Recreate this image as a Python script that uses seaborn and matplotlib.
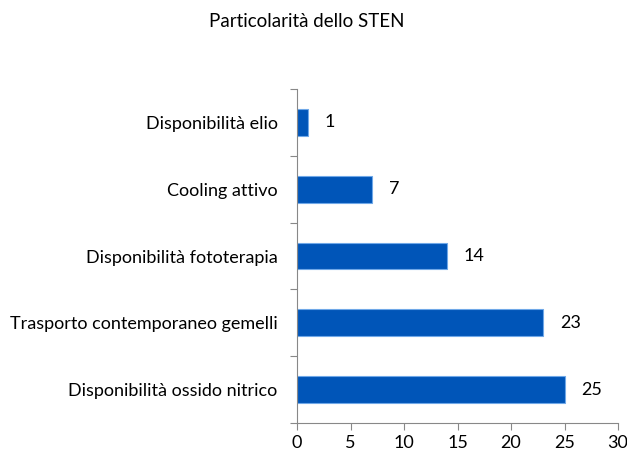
import matplotlib
matplotlib.use("Agg")
import matplotlib.pyplot as plt
import seaborn as sns
import pandas as pd

# Dati
categorie = [
    "Disponibilità elio",
    "Cooling attivo",
    "Disponibilità fototerapia",
    "Trasporto contemporaneo gemelli",
    "Disponibilità ossido nitrico",
]
valori = [1, 7, 14, 23, 25]
x_ticks = [0, 5, 10, 15, 20, 25, 30]
titolo = "Particolarità dello STEN"

df = pd.DataFrame({"categoria": categorie, "valore": valori})

sns.set_style("white")
plt.rcParams["font.family"] = ["Lato", "DejaVu Sans"]

fig = plt.figure(figsize=(6.27, 4.55), dpi=100)
ax = fig.add_axes([0.4737, 0.0703, 0.512, 0.734])

sns.barplot(data=df, x="valore", y="categoria", orient="h", order=categorie,
            color="#0055B8", saturation=1, width=0.4, ax=ax,
            edgecolor="#6FA8E8", linewidth=0.8)

for i, v in enumerate(valori):
    ax.annotate(str(v), xy=(v, i), xytext=(12, 0), textcoords="offset points",
                va="center", ha="left", fontsize=13, color="black")

ax.set_xlim(0, 30)
ax.set_ylim(len(categorie) - 0.5, -0.5)
ax.set_xticks(x_ticks)
ax.set_xlabel("")
ax.set_ylabel("")

# tacche dell'asse y tra le categorie
ax.set_yticks([i - 0.5 for i in range(len(categorie) + 1)], minor=True)
ax.tick_params(axis="y", which="major", length=0, labelsize=13, pad=14,
               labelcolor="black")
ax.tick_params(axis="y", which="minor", length=5, width=0.8, color="#888888",
               direction="out", left=True)
ax.tick_params(axis="x", which="major", length=5, width=0.8, color="#888888",
               direction="out", bottom=True, labelsize=13, labelcolor="black")

for lato in ["top", "right"]:
    ax.spines[lato].set_visible(False)
for lato in ["left", "bottom"]:
    ax.spines[lato].set_color("#888888")
    ax.spines[lato].set_linewidth(0.8)

fig.text(0.49, 0.952, titolo, ha="center", va="center", fontsize=13.5,
         color="black")

fig.savefig("out.png", dpi=100)
